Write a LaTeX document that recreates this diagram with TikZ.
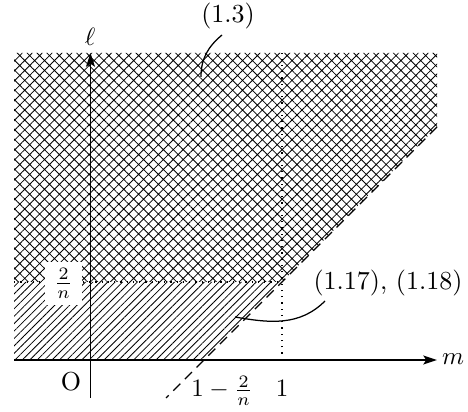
\documentclass[tikz,border=0pt]{standalone}
\usetikzlibrary{patterns.meta,arrows.meta}
\begin{document}
\begin{tikzpicture}[x=0.4pt,y=0.4pt,
  axis/.style={line width=0.6pt,-{Stealth[length=5.5pt,width=3.6pt,inset=1.2pt]}},
  guide/.style={dotted,line width=0.5pt},
  slope/.style={line width=0.55pt,dash pattern=on 4pt off 2.6pt},
  leader/.style={line width=0.5pt},
  lbl/.style={inner sep=0.5pt,font=\fontsize{10.4pt}{12.5pt}\selectfont},
  crossfill/.style={pattern={Hatch[angle=45,distance=2.8pt,line width=0.32pt]}},
  linefill/.style={pattern={Lines[angle=45,distance=2.1pt,line width=0.32pt]}}]
\useasboundingbox (0,0) rectangle (468,412);
% regions
\fill[crossfill] (14,359) -- (437,359) -- (437,285) -- (282,130) -- (14,130) -- cycle;
\fill[linefill] (14,130) -- (282,130) -- (204,52) -- (14,52) -- cycle;
% coordinates
\coordinate (hs) at (14,52);
\coordinate (he) at (437,52);
\coordinate (vs) at (90.5,14);
\coordinate (ve) at (90.5,359);
\coordinate (d1) at (437,285);
\coordinate (d2) at (166,14);
\coordinate (g1a) at (282,52);
\coordinate (g1b) at (282,359);
\coordinate (g2a) at (14,130);
\coordinate (g2b) at (282,130);
\coordinate (l1a) at (222,377);
\coordinate (l1b) at (201,335);
\coordinate (l2a) at (325,111);
\coordinate (l2b) at (235,95);
% guides
\draw[guide] (g1a) -- (g1b);
\draw[guide] (g2a) -- (g2b);
\draw[slope] (d1) -- (d2);
% axes
\draw[axis] (hs) -- (he);
\draw[axis] (vs) -- (ve);
% labels
\node[lbl] (m) at (453,53) {$m$};
\node[lbl] (ell) at (90,375) {$\ell$};
\node[lbl] (O) at (71,30) {O};
\node[lbl,fill=white,inner sep=0pt,minimum width=14.8pt,minimum height=17pt] (twon) at (63.5,128.5) {$\frac{2}{n}$};
\node[lbl,anchor=base] (onem) at (222,15) {$1-\frac{2}{n}$};
\node[lbl,anchor=base] (one) at (282,15) {$1$};
\node[lbl] (e13) at (228,396) {(1.3)};
\node[lbl] (e117) at (388,129) {(1.17), (1.18)};
% leaders
\draw[leader] (l1a) to[out=-140,in=90] (l1b);
\draw[leader] (l2a) to[out=-135,in=-10] (l2b);
\end{tikzpicture}
\end{document}
